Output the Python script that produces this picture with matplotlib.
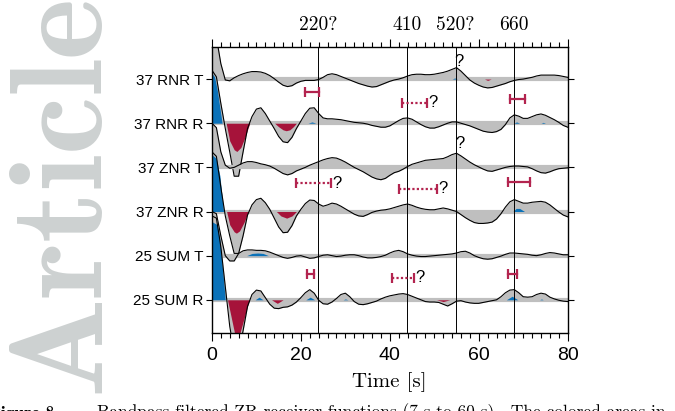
#!/usr/bin/env python3
# -*- coding: utf-8 -*-

import numpy as np
import matplotlib
matplotlib.use('Agg')
import matplotlib.pyplot as plt
from matplotlib.transforms import blended_transform_factory

plt.rcParams['font.family'] = ['Liberation Sans', 'DejaVu Sans']
plt.rcParams['axes.unicode_minus'] = False

# -----------------------------------------------------------------------------
# Data (amplitudes in trace-spacing units, sampled every second)
# -----------------------------------------------------------------------------
time = np.arange(0, 81, 1.0)

trace_labels = ['37 RNR T', '37 RNR R', '37 ZNR T', '37 ZNR R', '25 SUM T', '25 SUM R']

rnr_t = [1.00, 0.95, 0.35, -0.02, -0.04, 0.03, 0.08, 0.12, 0.15, 0.17,
         0.17, 0.16, 0.13, 0.08, 0.01, -0.07, -0.14, -0.17, -0.15, -0.09,
         -0.05, -0.03, -0.03, -0.03, -0.01, 0.04, 0.10, 0.12, 0.10, 0.06,
         0.02, -0.02, -0.06, -0.10, -0.13, -0.16, -0.18, -0.17, -0.13, -0.09,
         -0.05, -0.02, 0.00, 0.03, 0.07, 0.10, 0.11, 0.11, 0.10, 0.10,
         0.11, 0.13, 0.15, 0.18, 0.22, 0.26, 0.18, 0.08, -0.02, -0.09,
         -0.14, -0.18, -0.20, -0.19, -0.16, -0.13, -0.10, -0.06, -0.03, -0.01,
         0.00, 0.02, 0.04, 0.07, 0.09, 0.09, 0.09, 0.09, 0.08, 0.06,
         0.04]

rnr_r = [1.20, 1.05, 0.45, -0.12, -0.65, -1.20, -1.20, -0.65, -0.12, 0.15,
         0.32, 0.35, 0.22, 0.05, -0.12, -0.30, -0.42, -0.44, -0.32, -0.12,
         0.05, 0.22, 0.34, 0.35, 0.22, 0.12, 0.10, 0.10, 0.09, 0.08,
         0.06, 0.04, 0.02, 0.01, 0.00, -0.02, -0.05, -0.07, -0.09, -0.09,
         -0.06, 0.00, 0.06, 0.11, 0.12, 0.09, 0.03, -0.03, -0.08, -0.11,
         -0.11, -0.08, -0.04, 0.00, 0.03, 0.03, 0.00, -0.03, -0.06, -0.10,
         -0.14, -0.18, -0.20, -0.21, -0.19, -0.14, -0.03, 0.12, 0.19, 0.16,
         0.11, 0.11, 0.15, 0.19, 0.21, 0.18, 0.13, 0.08, 0.02, -0.05,
         -0.09]

znr_t = [1.00, 0.90, 0.35, 0.05, -0.02, 0.00, 0.05, 0.10, 0.13, 0.13,
         0.11, 0.08, 0.06, 0.03, -0.02, -0.08, -0.14, -0.17, -0.14, -0.08,
         -0.04, 0.00, 0.05, 0.09, 0.13, 0.17, 0.20, 0.22, 0.21, 0.17,
         0.12, 0.06, 0.00, -0.05, -0.10, -0.16, -0.22, -0.26, -0.28, -0.25,
         -0.18, -0.12, -0.09, -0.04, 0.02, 0.07, 0.10, 0.13, 0.16, 0.17,
         0.18, 0.19, 0.20, 0.24, 0.29, 0.32, 0.26, 0.19, 0.12, 0.06,
         0.01, -0.04, -0.08, -0.09, -0.06, -0.03, 0.00, 0.02, 0.03, 0.03,
         0.02, 0.01, -0.03, -0.08, -0.12, -0.13, -0.10, -0.06, -0.03, -0.02,
         -0.01]

znr_r = [1.35, 1.25, 0.55, -0.10, -0.55, -0.95, -0.95, -0.55, -0.08, 0.15,
         0.27, 0.30, 0.20, 0.05, -0.15, -0.35, -0.48, -0.47, -0.32, -0.10,
         0.05, 0.18, 0.26, 0.25, 0.17, 0.12, 0.15, 0.19, 0.17, 0.12,
         0.06, 0.00, -0.06, -0.10, -0.11, -0.07, -0.02, 0.01, 0.03, 0.04,
         0.06, 0.09, 0.12, 0.15, 0.17, 0.14, 0.10, 0.07, 0.05, 0.04,
         0.04, 0.06, 0.08, 0.06, 0.03, 0.00, -0.07, -0.14, -0.20, -0.25,
         -0.27, -0.27, -0.26, -0.24, -0.17, -0.05, 0.10, 0.22, 0.27, 0.23,
         0.19, 0.19, 0.21, 0.22, 0.23, 0.21, 0.15, 0.07, -0.01, -0.08,
         -0.12]

sum_t = [1.00, 0.95, 0.45, 0.00, -0.12, -0.12, 0.05, 0.11, 0.13, 0.13,
         0.12, 0.12, 0.11, 0.08, 0.04, 0.00, -0.04, -0.06, -0.04, -0.01,
         0.00, -0.03, -0.06, -0.05, -0.02, 0.01, 0.02, 0.00, -0.02, -0.01,
         0.01, 0.02, 0.02, 0.00, -0.03, -0.05, -0.05, -0.04, -0.02, 0.01,
         0.06, 0.10, 0.12, 0.09, 0.04, 0.01, -0.01, -0.02, -0.02, -0.01,
         0.00, 0.01, 0.02, 0.03, 0.04, 0.06, 0.09, 0.10, 0.06, 0.00,
         -0.04, -0.07, -0.08, -0.07, -0.04, -0.01, 0.03, 0.06, 0.06, 0.05,
         0.04, 0.03, 0.01, 0.00, 0.02, 0.05, 0.07, 0.06, 0.04, 0.02,
         0.02]

sum_r = [1.90, 1.85, 1.20, 0.30, -0.60, -1.20, -1.20, -0.70, -0.15, 0.12,
         0.22, 0.20, 0.05, -0.10, -0.19, -0.20, -0.17, -0.16, -0.12, -0.05,
         0.05, 0.16, 0.23, 0.15, -0.01, -0.09, -0.10, -0.05, 0.03, 0.12,
         0.15, 0.07, -0.04, -0.10, -0.11, -0.09, -0.06, -0.03, 0.02, 0.06,
         0.09, 0.11, 0.13, 0.14, 0.12, 0.08, 0.04, 0.00, -0.04, -0.05,
         -0.05, -0.06, -0.10, -0.14, -0.09, -0.03, -0.02, -0.05, -0.07, -0.08,
         -0.08, -0.06, -0.04, -0.02, 0.00, 0.07, 0.16, 0.22, 0.23, 0.16,
         0.07, 0.06, 0.07, 0.12, 0.15, 0.13, 0.06, 0.02, -0.01, -0.03,
         -0.04]

traces = [rnr_t, rnr_r, znr_t, znr_r, sum_t, sum_r]

# significant (colored) areas: confidence bound as (times, values)
pos_areas = [
    [([54.0, 54.6, 55.2], [0, 0.025, 0])],
    [([0, 0.6, 1.2, 2.3], [1.13, 1.05, 0.75, 0]),
     ([21.6, 22.5, 23.4], [0, 0.03, 0]),
     ([67.9, 68.5, 69.2], [0, 0.03, 0]),
     ([74.0, 74.5, 75.0], [0, 0.02, 0])],
    [],
    [([0, 1.0, 1.8, 2.6], [1.29, 1.2, 0.8, 0]),
     ([67.7, 68.4, 69.2, 70.3], [0, 0.07, 0.07, 0])],
    [([7.8, 9.0, 10.3, 11.5, 12.7], [0, 0.05, 0.06, 0.05, 0])],
    [([0, 1.2, 1.8, 3.0], [1.77, 1.7, 1.35, 0]),
     ([9.7, 10.6, 11.5], [0, 0.06, 0]),
     ([21.1, 22.1, 23.1], [0, 0.06, 0]),
     ([29.5, 30.0, 30.6], [0, 0.02, 0]),
     ([66.2, 67.5, 68.8], [0, 0.08, 0]),
     ([73.7, 74.1, 74.5], [0, 0.02, 0])],
]
neg_areas = [
    [([61.3, 62.0, 62.8], [0, -0.03, 0])],
    [([3.2, 4.0, 5.0, 5.6, 6.5, 7.5, 8.5], [0, -0.4, -0.6, -0.64, -0.55, -0.3, 0]),
     ([14.1, 15.0, 16.0, 16.7, 17.5, 18.3, 19.0], [0, -0.08, -0.15, -0.17, -0.15, -0.08, 0])],
    [],
    [([3.3, 4.0, 5.0, 5.5, 6.2, 7.2, 8.2], [0, -0.3, -0.46, -0.49, -0.44, -0.25, 0]),
     ([14.5, 15.5, 16.8, 18.0, 19.0], [0, -0.1, -0.15, -0.1, 0])],
    [],
    [([3.5, 5.6, 8.4], [0, -1.0, 0]),
     ([13.4, 14.7, 16.0], [0, -0.08, 0]),
     ([50.5, 52.0, 53.5], [0, -0.04, 0])],
]

# discontinuity time ranges
bar_start = [20.9, 42.8, 67.1, 19.0, 42.0, 66.6, 21.3, 40.4, 66.6]
bar_end = [24.1, 48.4, 70.4, 26.7, 50.6, 71.5, 22.9, 45.4, 68.5]
bar_y = [5.71, 5.46, 5.56, 3.64, 3.52, 3.66, 1.59, 1.50, 1.59]
bar_uncertain = [False, True, False, True, True, False, False, True, False]

phase_t = [23.9, 43.9, 54.8, 67.9]
phase_labels = ['220?', '410', '520?', '660']

peak_q_t = [55.6, 55.7]
peak_q_y = [6.40, 4.54]

# -----------------------------------------------------------------------------
gray = '#bfbfbf'
blue = '#0b72b9'
red = '#a6133a'
bar_c = '#b3244f'

fig = plt.figure(figsize=(6.75, 4.11), dpi=100)
ax = fig.add_axes([0.314, 0.190, 0.527, 0.696])

n = len(traces)
for i, amp in enumerate(traces):
    base = n - i
    y = base + np.array(amp)
    ax.plot([0, 80], [base, base], color=gray, lw=3, solid_capstyle='butt', zorder=2)
    ax.fill_between(time, base, y, color=gray, lw=0, zorder=2)
    for pt, pv in pos_areas[i]:
        ax.fill_between(pt, base, base + np.array(pv), color=blue, lw=0, zorder=2)
    for pt, pv in neg_areas[i]:
        ax.fill_between(pt, base, base + np.array(pv), color=red, lw=0, zorder=2)
    ax.plot(time, y, color='k', lw=0.8, zorder=2)

for t in phase_t:
    ax.axvline(t, color='k', lw=0.7, zorder=3)

trans = blended_transform_factory(ax.transData, ax.transAxes)
for t, lbl in zip(phase_t, phase_labels):
    ax.text(t, 1.06, lbl, transform=trans, ha='center', va='baseline',
            fontsize=14, family='cmr10')

for s, e, yb, unc in zip(bar_start, bar_end, bar_y, bar_uncertain):
    ls = (0, (1, 1)) if unc else '-'
    ax.plot([s, e], [yb, yb], color=bar_c, lw=1.6, ls=ls, zorder=4)
    ax.plot([s, e], [yb, yb], ls='none', marker='|', ms=7, mew=1.6,
            color=bar_c, zorder=4)
    if unc:
        ax.text(e + 0.3, yb, '?', ha='left', va='center', fontsize=12, zorder=5)

for t, yq in zip(peak_q_t, peak_q_y):
    ax.text(t, yq, '?', ha='center', va='center', fontsize=12, zorder=5)

ax.set_xlim(0, 80)
ax.set_ylim(0.25, 6.73)
ax.set_xticks(range(0, 81, 20))
ax.set_xticks(range(0, 81, 2), minor=True)
ax.tick_params(axis='x', which='both', top=True, direction='out', width=0.8)
ax.tick_params(axis='x', which='major', length=6, labelsize=14, pad=4)
ax.tick_params(axis='x', which='minor', length=3.5)
ax.set_yticks(range(n, 0, -1))
ax.set_yticklabels(trace_labels)
ax.tick_params(axis='y', right=True, direction='out', length=4, width=0.8,
               labelsize=11, pad=2)
for sp in ax.spines.values():
    sp.set_linewidth(1.0)
ax.set_xlabel('Time [s]', fontsize=15, family='cmr10', labelpad=6)

# watermark and caption of the page
fig.text(0.144, 0.044, 'Article', rotation=90, rotation_mode='anchor',
         ha='left', va='baseline', fontsize=95, family='cmb10', color='#cdd1d1',
         zorder=0)
fig.text(-0.015, -0.016, 'Figure 8.', fontsize=12.5, family='cmb10',
         ha='left', va='baseline')
fig.text(0.143, -0.016, 'Bandpass filtered ZR receiver functions (7 s to 60 s).'
         '  The colored areas in', fontsize=12.5, family='cmr10',
         ha='left', va='baseline')

fig.savefig('out.png', dpi=100)
